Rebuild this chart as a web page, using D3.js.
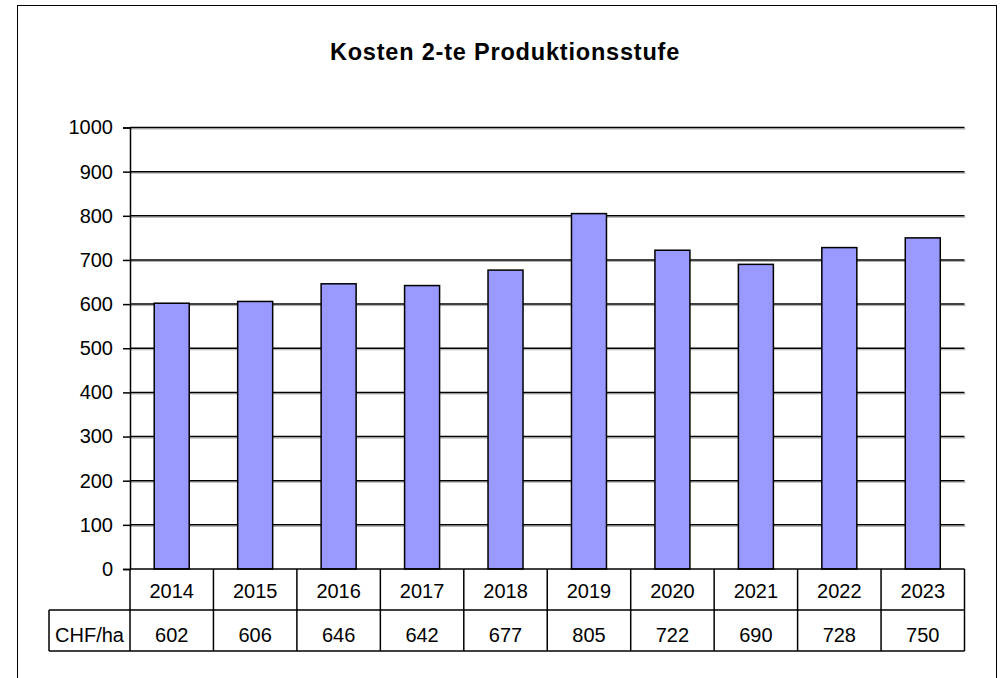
<!DOCTYPE html>
<html>
<head>
<meta charset="utf-8">
<script src="https://cdn.jsdelivr.net/npm/d3@7"></script>
<style>
  body { margin: 0; background: #fff; }
  svg { display: block; font-family: Arial, "Liberation Sans", sans-serif; }
</style>
</head>
<body>
<svg id="chart" width="1004" height="678"></svg>
<script>
const title = "Kosten 2-te Produktionsstufe";
const years = ["2014", "2015", "2016", "2017", "2018", "2019", "2020", "2021", "2022", "2023"];
const costs = [602, 606, 646, 642, 677, 805, 722, 690, 728, 750];
const rowLabel = "CHF/ha";
const yTicks = [0, 100, 200, 300, 400, 500, 600, 700, 800, 900, 1000];

(function () {
  const svg = d3.select("#chart");
  const fs = 20;

  // outer frame (bottom edge sits below the window)
  svg.append("rect")
    .attr("x", 17.5).attr("y", 5.5)
    .attr("width", 979).attr("height", 700)
    .attr("fill", "#fff").attr("stroke", "#000").attr("stroke-width", 1);

  svg.append("text")
    .attr("x", 505).attr("y", 60)
    .attr("text-anchor", "middle")
    .attr("font-size", 23.5).attr("font-weight", "bold")
    .attr("letter-spacing", 0.8)
    .text(title);

  const pLeft = 130, pRight = 964.5, pTop = 127.5, pBottom = 569;

  const x = d3.scaleBand().domain(years).range([pLeft, pRight]).padding(0);
  const y = d3.scaleLinear().domain([0, 1000]).range([pBottom, pTop]);

  // gridlines with a faint shadow
  const grid = svg.append("g");
  grid.selectAll("line.sh").data(yTicks.slice(1)).join("line")
    .attr("x1", pLeft).attr("x2", pRight + 1)
    .attr("y1", d => y(d) + 1.5).attr("y2", d => y(d) + 1.5)
    .attr("stroke", "#aaa").attr("stroke-width", 1);
  grid.selectAll("line.g").data(yTicks.slice(1)).join("line")
    .attr("x1", pLeft).attr("x2", pRight)
    .attr("y1", d => y(d)).attr("y2", d => y(d))
    .attr("stroke", "#000").attr("stroke-width", 1.5);

  // y axis
  const yAxis = svg.append("g")
    .attr("transform", `translate(${pLeft},0)`)
    .call(d3.axisLeft(y).tickValues(yTicks).tickSize(7).tickPadding(10).tickFormat(d3.format("d")));
  yAxis.select(".domain").attr("stroke", "#000").attr("stroke-width", 1.5);
  yAxis.selectAll(".tick line").attr("stroke-width", 1.5);
  yAxis.selectAll(".tick text").attr("font-size", fs).attr("font-family", "Arial, 'Liberation Sans', sans-serif").attr("fill", "#000");

  // bars
  const bw = 35;
  svg.append("g").selectAll("rect").data(costs).join("rect")
    .attr("x", (d, i) => x(years[i]) + x.bandwidth() / 2 - bw / 2)
    .attr("y", d => y(d))
    .attr("width", bw)
    .attr("height", d => pBottom - y(d))
    .attr("fill", "#9999ff")
    .attr("stroke", "#000").attr("stroke-width", 1.5);

  // data table
  const rowH = 41;
  const tableLeft = 49;
  const t = svg.append("g");
  const tl = (x1, y1, x2, y2) => t.append("line")
    .attr("x1", x1).attr("y1", y1).attr("x2", x2).attr("y2", y2)
    .attr("stroke", "#000").attr("stroke-width", 1.5);

  tl(pLeft, pBottom, pRight, pBottom);
  tl(tableLeft, pBottom + rowH, pRight, pBottom + rowH);
  tl(tableLeft, pBottom + 2 * rowH, pRight, pBottom + 2 * rowH);
  tl(tableLeft, pBottom + rowH, tableLeft, pBottom + 2 * rowH);
  years.forEach(yr => tl(x(yr), pBottom, x(yr), pBottom + 2 * rowH));
  tl(pRight, pBottom, pRight, pBottom + 2 * rowH);

  t.selectAll("text.yr").data(years).join("text")
    .attr("x", d => x(d) + x.bandwidth() / 2)
    .attr("y", pBottom + 28.5)
    .attr("text-anchor", "middle").attr("font-size", fs)
    .text(d => d);

  t.selectAll("text.val").data(costs).join("text")
    .attr("x", (d, i) => x(years[i]) + x.bandwidth() / 2)
    .attr("y", pBottom + rowH + 32)
    .attr("text-anchor", "middle").attr("font-size", fs)
    .text(d => d);

  t.append("text")
    .attr("x", (tableLeft + pLeft) / 2).attr("y", pBottom + rowH + 32)
    .attr("text-anchor", "middle").attr("font-size", fs)
    .text(rowLabel);
})();
</script>
</body>
</html>
